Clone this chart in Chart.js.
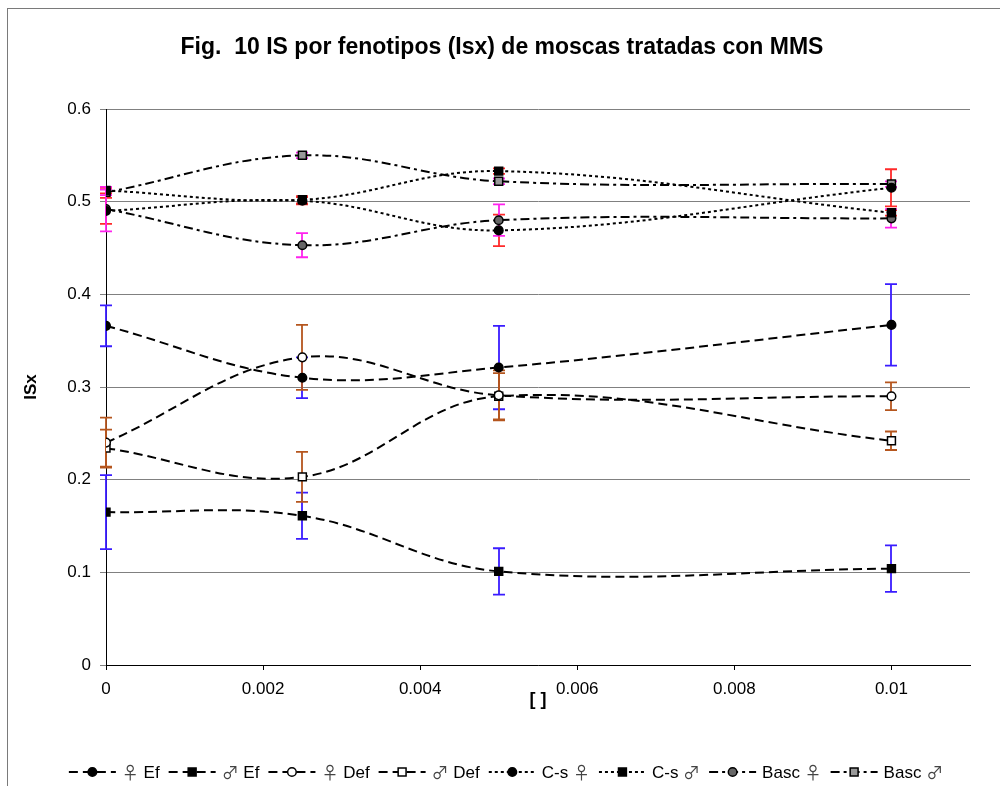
<!DOCTYPE html>
<html>
<head>
<meta charset="utf-8">
<script src="https://cdn.jsdelivr.net/npm/chart.js@4.4.1/dist/chart.umd.min.js"></script>
<style>
  html, body { margin: 0; padding: 0; background: #fff; }
  #wrap { width: 1000px; height: 786px; position: relative; }
</style>
</head>
<body>
<div id="wrap"><canvas id="c" width="1000" height="786"></canvas></div>
<script>
// Doses (x) and axis ticks
const doses  = [0, 0.0025, 0.005, 0.01];
const xTicks = [0, 0.002, 0.004, 0.006, 0.008, 0.01];
const yTicks = [0, 0.1, 0.2, 0.3, 0.4, 0.5, 0.6];

const labels = ['♀ Ef', '♂ Ef', '♀ Def', '♂ Def', 'C-s ♀', 'C-s ♂', 'Basc ♀', 'Basc ♂'];

// ISx per phenotype and its error
const efHembra    = [0.366, 0.310, 0.321, 0.367];
const efMacho     = [0.165, 0.161, 0.101, 0.104];
const defHembra   = [0.240, 0.332, 0.291, 0.290];
const defMacho    = [0.234, 0.203, 0.290, 0.242];
const csHembra    = [0.490, 0.501, 0.469, 0.515];
const csMacho     = [0.512, 0.502, 0.533, 0.488];
const bascHembra  = [0.492, 0.453, 0.480, 0.482];
const bascMacho   = [0.510, 0.550, 0.522, 0.519];

const errEfHembra   = [0.022, 0.022, 0.045, 0.044];
const errEfMacho    = [0.040, 0.025, 0.025, 0.025];
const errDefHembra  = [0.027, 0.035, 0.027, 0.015];
const errDefMacho   = [0.020, 0.027, 0.025, 0.010];
const errCsHembra   = [0.014, 0.004, 0.017, 0.020];
const errCsMacho    = [0.003, 0.004, 0.003, 0.003];
const errBascHembra = [0.024, 0.013, 0.017, 0.010];
const errBascMacho  = [0.003, 0.003, 0.003, 0.003];

const FONT = "'Liberation Sans', Arial, 'DejaVu Sans', sans-serif";
const TEXT_FONT = "17px 'Liberation Sans', Arial, sans-serif";
const SYMBOL_FONT = "17px 'Noto Sans CJK JP', 'DejaVu Sans', sans-serif";
const BLUE = '#3a1cff', BROWN = '#b5561e', RED = '#ff2a2a', MAGENTA = '#ff22ee';

const DASH = [9, 5], DOT = [3, 3], DASHDOT = [9, 4, 3, 4];

function pts(vals) { return vals.map((v, i) => ({ x: doses[i], y: v })); }

function series(label, vals, errs, errColor, dash, style, fill) {
  return {
    label,
    data: pts(vals),
    errors: errs,
    errorColor: errColor,
    borderColor: '#000',
    borderWidth: 2,
    borderDash: dash,
    tension: 0.38,
    fill: false,
    pointStyle: style,
    pointRadius: style === 'rect' ? 5.6 : 4.3,
    pointHoverRadius: style === 'rect' ? 5.6 : 4.3,
    pointBackgroundColor: fill,
    pointBorderColor: '#000',
    pointBorderWidth: 1.5
  };
}

const datasets = [
  series(labels[0], efHembra,   errEfHembra,   BLUE,    DASH,    'circle', '#000'),
  series(labels[1], efMacho,    errEfMacho,    BLUE,    DASH,    'rect',   '#000'),
  series(labels[2], defHembra,  errDefHembra,  BROWN,   DASH,    'circle', '#fff'),
  series(labels[3], defMacho,   errDefMacho,   BROWN,   DASH,    'rect',   '#fff'),
  series(labels[4], csHembra,   errCsHembra,   RED,     DOT,     'circle', '#000'),
  series(labels[5], csMacho,    errCsMacho,    RED,     DOT,     'rect',   '#000'),
  series(labels[6], bascHembra, errBascHembra, MAGENTA, DASHDOT, 'circle', '#666'),
  series(labels[7], bascMacho,  errBascMacho,  MAGENTA, DASHDOT, 'rect',   '#999')
];

// White page with the outer frame
const framePlugin = {
  id: 'frame',
  beforeDraw(chart) {
    const ctx = chart.ctx;
    ctx.save();
    ctx.fillStyle = '#fff';
    ctx.fillRect(0, 0, chart.width, chart.height);
    ctx.strokeStyle = '#7a7a7a';
    ctx.lineWidth = 1;
    ctx.strokeRect(7.5, 8.5, 1200, 1000);
    ctx.restore();
  }
};

// Chart heading
const headingPlugin = {
  id: 'heading',
  afterDraw(chart) {
    const ctx = chart.ctx;
    ctx.save();
    ctx.font = 'bold 23px ' + FONT;
    ctx.fillStyle = '#000';
    ctx.textAlign = 'center';
    ctx.textBaseline = 'middle';
    ctx.fillText('Fig.  10 IS por fenotipos (Isx) de moscas tratadas con MMS', 502, 48);
    ctx.restore();
  }
};

// Vertical error bars with caps, under the lines and markers
const errorBarPlugin = {
  id: 'errorBars',
  beforeDatasetsDraw(chart) {
    const { ctx, scales: { x, y } } = chart;
    chart.data.datasets.forEach(ds => {
      ctx.save();
      ctx.strokeStyle = ds.errorColor;
      ctx.lineWidth = 1.8;
      ds.data.forEach((p, j) => {
        const e = ds.errors[j];
        const px = Math.round(x.getPixelForValue(p.x));
        const top = y.getPixelForValue(p.y + e);
        const bot = y.getPixelForValue(p.y - e);
        ctx.beginPath();
        ctx.moveTo(px, top); ctx.lineTo(px, bot);
        ctx.moveTo(px - 6, top); ctx.lineTo(px + 6, top);
        ctx.moveTo(px - 6, bot); ctx.lineTo(px + 6, bot);
        ctx.stroke();
      });
      ctx.restore();
    });
  }
};

function drawMarker(ctx, ds, cx, cy) {
  ctx.save();
  ctx.setLineDash([]);
  ctx.fillStyle = ds.pointBackgroundColor;
  ctx.strokeStyle = ds.pointBorderColor;
  ctx.lineWidth = ds.pointBorderWidth;
  ctx.beginPath();
  if (ds.pointStyle === 'rect') {
    const s = ds.pointRadius * Math.SQRT1_2;
    ctx.rect(cx - s, cy - s, 2 * s, 2 * s);
  } else {
    ctx.arc(cx, cy, ds.pointRadius, 0, Math.PI * 2);
  }
  ctx.fill();
  ctx.stroke();
  ctx.restore();
}

// Splits a legend name into plain text and sex symbols
function labelParts(label) {
  return label.split(/([♀♂])/).filter(s => s.length).map(s => ({ s, sym: /[♀♂]/.test(s) }));
}
function partWidth(ctx, p) {
  ctx.font = p.sym ? SYMBOL_FONT : TEXT_FONT;
  return ctx.measureText(p.s).width;
}

// Legend row: line sample with its marker, then the name
const legendPlugin = {
  id: 'legendRow',
  afterDraw(chart) {
    const ctx = chart.ctx;
    const sample = 47, gapText = 6, gapItem = 9, cy = 772, centre = 506;
    ctx.save();
    const items = chart.data.datasets.map(ds => {
      const parts = labelParts(ds.label);
      const w = parts.reduce((s, p) => s + partWidth(ctx, p), 0);
      return { ds, parts, w };
    });
    const total = items.reduce((s, it) => s + sample + gapText + it.w, 0) + gapItem * (items.length - 1);
    let x = centre - total / 2;
    items.forEach(({ ds, parts, w }) => {
      ctx.save();
      ctx.strokeStyle = '#000';
      ctx.lineWidth = 2;
      ctx.setLineDash(ds.borderDash);
      ctx.beginPath();
      ctx.moveTo(x, cy); ctx.lineTo(x + sample, cy);
      ctx.stroke();
      ctx.restore();
      drawMarker(ctx, ds, x + sample / 2, cy);
      ctx.textAlign = 'left';
      ctx.textBaseline = 'alphabetic';
      let tx = x + sample + gapText;
      parts.forEach(p => {
        const pw = partWidth(ctx, p);
        ctx.fillStyle = p.sym ? '#444' : '#000';
        ctx.fillText(p.s, tx, cy + (p.sym ? 7 : 6));
        tx += pw;
      });
      x += sample + gapText + w + gapItem;
    });
    ctx.restore();
  }
};

const fmt = (v, d) => String(+Number(v).toFixed(d));

new Chart(document.getElementById('c'), {
  type: 'line',
  data: { datasets },
  options: {
    responsive: false,
    animation: false,
    devicePixelRatio: 1,
    layout: { padding: { top: 109, left: 10, right: 30, bottom: 56 } },
    plugins: { legend: { display: false }, title: { display: false }, tooltip: { enabled: false } },
    scales: {
      x: {
        type: 'linear',
        min: 0,
        max: 0.011,
        afterBuildTicks: s => { s.ticks = xTicks.map(v => ({ value: v })); },
        afterFit: s => { s.height = 65; },
        ticks: { color: '#000', font: { family: FONT, size: 17 }, padding: 9, maxRotation: 0, autoSkip: false,
                 callback: v => fmt(v, 3) },
        grid: { drawOnChartArea: false, drawTicks: true, tickLength: 5, color: '#000' },
        border: { color: '#000', width: 1 },
        title: { display: true, text: '[ ]', color: '#000', font: { family: FONT, size: 18, weight: 'bold' },
                 padding: { top: 0, bottom: 19 } }
      },
      y: {
        min: 0,
        max: 0.6,
        afterBuildTicks: s => { s.ticks = yTicks.map(v => ({ value: v })); },
        afterFit: s => { s.width = 96; },
        ticks: { color: '#000', font: { family: FONT, size: 17 }, padding: 9, callback: v => fmt(v, 1) },
        grid: { color: '#808080', lineWidth: 1, tickLength: 6 },
        border: { color: '#000', width: 1 },
        title: { display: true, text: 'ISx', color: '#000', font: { family: FONT, size: 17, weight: 'bold' },
                 padding: { top: 11, bottom: 0 } }
      }
    }
  },
  plugins: [framePlugin, errorBarPlugin, headingPlugin, legendPlugin]
});
</script>
</body>
</html>
